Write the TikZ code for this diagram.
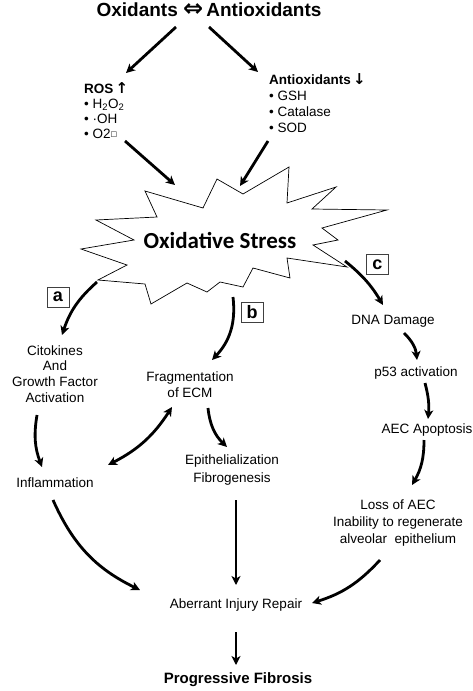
\documentclass[tikz,border=0pt]{standalone}
\usepackage{fontspec}
\setmainfont{Liberation Sans}
\newfontfamily\calibfont{Carlito}
\newfontfamily\dejavufont{DejaVu Sans}
\usetikzlibrary{arrows.meta}
\newcommand\upar{{\dejavufont\bfseries\fontsize{15}{15}\selectfont ↑}}
\newcommand\downar{{\dejavufont\bfseries\fontsize{15}{15}\selectfont ↓}}
\begin{document}
\begin{tikzpicture}[x=1pt,y=-1pt,
  >={Stealth[length=9pt,width=9pt,inset=2.5pt]},
  arr/.style={line width=2.8pt,->},
  txt/.style={inner sep=0pt,align=center,font=\fontsize{13.5}{15.7}\selectfont},
  lst/.style={inner sep=0pt,align=left,anchor=north west,font=\fontsize{13}{15}\selectfont},
  tag/.style={draw=black!75,line width=0.9pt,minimum width=22pt,minimum height=20pt,inner sep=0pt,font=\bfseries\fontsize{18}{18}\selectfont}]
\useasboundingbox (0,0) rectangle (473,691);
% the burst
\draw[line width=0.7pt,fill=white](96,220)--(134,240)--(81,249)--(127,265)--(98,280)--(145,284)--(151,304)
  --(187,283)--(207,292)--(220,282)--(243,287)--(253,268)--(290,278)--(287,258)--(347,267)--(313,245)
  --(338,240)--(322,228)--(387,210)--(312,209)--(336,187)--(287,203)--(289,167)--(243,194)--(217,179)
  --(203,208)--(145,191)--(157,217)--cycle;
\node(stress) at (220,240)[inner sep=0pt,font=\calibfont\bfseries\fontsize{23}{23}\selectfont]{Oxidative Stress};
% top
\node(ox) at (209,10)[inner sep=0pt,font=\bfseries\fontsize{19}{20}\selectfont]{Oxidants {\dejavufont\fontsize{24}{24}\selectfont ⇔}\,Antioxidants};
\node(ros) at (84,82)[lst,font=\fontsize{13.5}{15}\selectfont]{{\bfseries ROS}\,\upar\\• H\textsubscript{2}O\textsubscript{2}\\• ·OH\\• O2\raisebox{1.5pt}{\dejavufont\fontsize{7}{7}\selectfont □}};
\node(antis) at (269,73)[lst,font=\fontsize{13.5}{16}\selectfont]{{\bfseries Antioxidants}\,\downar\\• GSH\\• Catalase\\• SOD};
% labels
\node(a) at (58,297)[tag]{a};
\node(b) at (252,312)[tag]{b};
\node(c) at (377.5,264.5)[tag]{c};
% pathways
\node(cito) at (55,374)[txt]{Citokines\\And\\Growth Factor\\Activation};
\node(infl) at (55,483)[txt]{Inflammation};
\node(frag) at (190,385)[txt,font=\fontsize{13.5}{16}\selectfont]{Fragmentation\\of ECM};
\node(epi) at (232,470)[txt,font=\fontsize{13.5}{18}\selectfont]{Epithelialization\\Fibrogenesis};
\node(dna) at (393,321)[txt]{DNA Damage};
\node(p53) at (416,373)[txt]{p53 activation};
\node(apop) at (427,430)[txt]{AEC Apoptosis};
\node(loss) at (398,523)[txt,font=\fontsize{13.5}{17}\selectfont]{Loss of AEC\\Inability to regenerate\\alveolar\ \ epithelium};
\node(repair) at (236,605)[txt]{Aberrant Injury Repair};
\node(fib) at (238,680)[inner sep=0pt,font=\bfseries\fontsize{15}{15}\selectfont]{Progressive Fibrosis};
% arrows
\draw[arr]([shift={(-33,17)}]ox.center)--([shift={(42,-9)}]ros.north west);
\draw[arr]([shift={(0,17)}]ox.center)--([shift={(-11,-1)}]antis.north west);
\draw[arr]([shift={(41,59)}]ros.north west)--([shift={(-45,-55)}]stress.center);
\draw[arr]([shift={(-1,68)}]antis.north west)--([shift={(20,-54)}]stress.center);
\draw[arr]([shift={(-123,42)}]stress.center)to[bend right=15]([shift={(7,-39)}]cito.center);
\draw[arr]([shift={(13,57)}]stress.center)to[bend left=25]([shift={(22,-25)}]frag.center);
\draw[arr]([shift={(125,21)}]stress.center)to[bend left=10]([shift={(-10,-16)}]dna.center);
\draw[arr]([shift={(11,12)}]dna.center)to[bend left=20]([shift={(1,-13)}]p53.center);
\draw[arr]([shift={(9,10)}]p53.center)to[bend left=10]([shift={(1,-11)}]apop.center);
\draw[arr]([shift={(-3,10)}]apop.center)to[bend left=15]([shift={(14,-38)}]loss.center);
\draw[arr]([shift={(-18,41)}]cito.center)to[bend right=15]([shift={(-13,-16)}]infl.center);
\draw[arr,<->]([shift={(53,-18)}]infl.center)to[bend right=15]([shift={(-18,22)}]frag.center);
\draw[arr]([shift={(18,23)}]frag.center)to[bend right=20]([shift={(-5,-23)}]epi.center);
\draw[arr]([shift={(-2,17)}]infl.center)to[bend right=20]([shift={(-96,-15)}]repair.center);
\draw[arr]([shift={(4,30)}]epi.center)--([shift={(0,-20)}]repair.center);
\draw[arr]([shift={(-18,37)}]loss.center)to[bend left=15]([shift={(76,-2)}]repair.center);
\draw[arr]([shift={(0,27)}]repair.center)--([shift={(-2,-15)}]fib.center);
\end{tikzpicture}
\end{document}
